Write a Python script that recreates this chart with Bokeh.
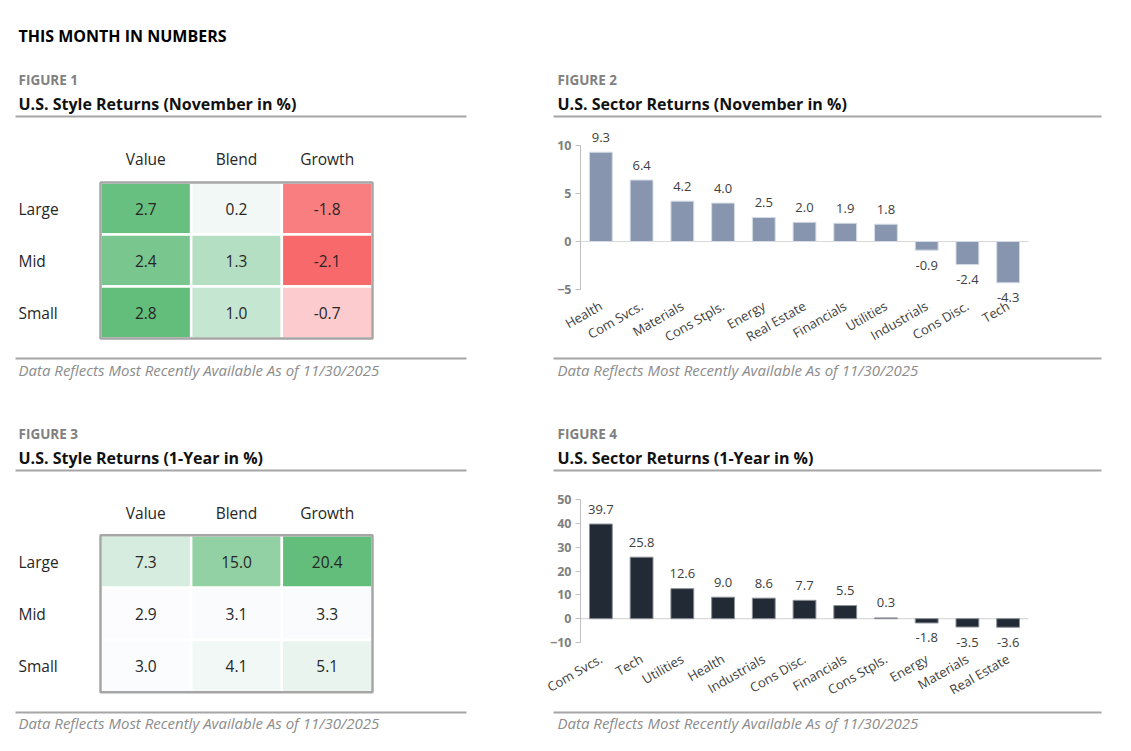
from math import pi
from bokeh.plotting import figure
from bokeh.layouts import column, row
from bokeh.models import Range1d, FixedTicker, ColumnDataSource
from bokeh.core.properties import value
from bokeh.embed import file_html
from bokeh.resources import INLINE

# ---------------- data ----------------
style_cols = ["Value", "Blend", "Growth"]
style_rows = ["Large", "Mid", "Small"]
style_nov = [[2.7, 0.2, -1.8],
             [2.4, 1.3, -2.1],
             [2.8, 1.0, -0.7]]
style_1y = [[7.3, 15.0, 20.4],
            [2.9, 3.1, 3.3],
            [3.0, 4.1, 5.1]]

sector_nov_names = ["Health", "Com Svcs.", "Materials", "Cons Stpls.", "Energy", "Real Estate",
                    "Financials", "Utilities", "Industrials", "Cons Disc.", "Tech"]
sector_nov_vals = [9.3, 6.4, 4.2, 4.0, 2.5, 2.0, 1.9, 1.8, -0.9, -2.4, -4.3]
sector_nov_ticks = [-5, 0, 5, 10]

sector_1y_names = ["Com Svcs.", "Tech", "Utilities", "Health", "Industrials", "Cons Disc.",
                   "Financials", "Cons Stpls.", "Energy", "Materials", "Real Estate"]
sector_1y_vals = [39.7, 25.8, 12.6, 9.0, 8.6, 7.7, 5.5, 0.3, -1.8, -3.5, -3.6]
sector_1y_ticks = [-10, 0, 10, 20, 30, 40, 50]

page_title = "THIS MONTH IN NUMBERS"
fig_labels = ["FIGURE 1", "FIGURE 2", "FIGURE 3", "FIGURE 4"]
fig_titles = ["U.S. Style Returns (November in %)", "U.S. Sector Returns (November in %)",
              "U.S. Style Returns (1-Year in %)", "U.S. Sector Returns (1-Year in %)"]
footnote = "Data Reflects Most Recently Available As of 11/30/2025"

# ---------------- styles ----------------
FONT = "Open Sans"
LW, RW = 540, 583
GREEN = (99, 190, 123)
WHITE = (252, 252, 255)
RED = (248, 105, 107)


def mix(c1, c2, t):
    t = max(0.0, min(1.0, t))
    return "#%02x%02x%02x" % tuple(int(round(a + (b - a) * t)) for a, b in zip(c1, c2))


def base_fig(w, h, **kw):
    return figure(width=w, height=h, output_backend="svg", toolbar_location=None,
                  min_border=0, outline_line_color=None, background_fill_color="white",
                  border_fill_color="white", **kw)


def text_fig(w, h):
    p = base_fig(w, h, x_range=Range1d(0, w), y_range=Range1d(h, 0),
                 x_axis_location=None, y_axis_location=None)
    p.grid.visible = False
    return p


def put_text(p, x, y, txt, size, color, style="normal", align="left"):
    p.text(x=[x], y=[y], text=[txt], text_font=value(FONT), text_font_size=size,
           text_color=color, text_font_style=style, text_align=align, text_baseline="middle")


def title_fig(w, h, xt, y_lab, y_tit, y_line, x0, x1, i):
    p = text_fig(w, h)
    put_text(p, xt, y_lab, fig_labels[i], "13.5px", "#808080", "bold")
    put_text(p, xt, y_tit, fig_titles[i], "16px", "#111111", "bold")
    p.segment(x0=[x0], y0=[y_line], x1=[x1], y1=[y_line], line_color="#a6a6a6", line_width=2)
    return p


def foot_fig(w, h, xt, y_line, y_txt, x0, x1):
    p = text_fig(w, h)
    p.segment(x0=[x0], y0=[y_line], x1=[x1], y1=[y_line], line_color="#a6a6a6", line_width=2)
    put_text(p, xt, y_txt, footnote, "15px", "#8c8c8c", "italic")
    return p


def heat_fig(w, h, vals, colorfn, y_top, y_bottom, x_left, x_right, y_head, x_lab):
    p = base_fig(w, h, x_range=Range1d(x_left, x_right), y_range=Range1d(y_bottom, y_top),
                 x_axis_location=None, y_axis_location=None)
    p.grid.visible = False
    xs, ys, txt, cols = [], [], [], []
    for r, rowvals in enumerate(vals):
        for c, v in enumerate(rowvals):
            xs.append(c)
            ys.append(r)
            txt.append("%.1f" % v)
            cols.append(colorfn(v))
    src = ColumnDataSource(dict(x=xs, y=ys, t=txt, c=cols))
    p.rect(x="x", y="y", width=1, height=1, fill_color="c", line_color="white",
           line_width=2.5, source=src)
    nc, nr = len(style_cols), len(style_rows)
    p.rect(x=[(nc - 1) / 2], y=[(nr - 1) / 2], width=nc, height=nr, fill_color=None,
           line_color="#a6a6a6", line_width=2.5)
    p.text(x="x", y="y", text="t", source=src, text_font=value(FONT), text_font_size="15.5px",
           text_color="#262626", text_align="center", text_baseline="middle")
    p.text(x=list(range(nc)), y=[y_head] * nc, text=style_cols, text_font=value(FONT),
           text_font_size="15.5px", text_color="#262626", text_align="center",
           text_baseline="middle")
    p.text(x=[x_lab] * nr, y=list(range(nr)), text=style_rows, text_font=value(FONT),
           text_font_size="15.5px", text_color="#262626", text_align="left",
           text_baseline="middle")
    return p


def bar_fig(w, h, names, vals, ticks, color, edge, x_lo, x_hi, y_lo, y_hi):
    n = len(names)
    idx = list(range(n))
    p = base_fig(w, h, x_range=Range1d(x_lo, x_hi), y_range=Range1d(y_lo, y_hi))
    p.grid.visible = False
    # zero baseline across the category band
    p.segment(x0=[-0.5], y0=[0], x1=[n - 0.5], y1=[0], line_color="#d9d9d9", line_width=1.2)
    p.vbar(x=idx, top=vals, width=0.56, fill_color=color, line_color=edge, line_width=1)
    offs = [-15 if v >= 0 else 15 for v in vals]
    src = ColumnDataSource(dict(x=idx, y=vals, t=["%.1f" % v for v in vals], o=offs))
    p.text(x="x", y="y", text="t", y_offset="o", source=src, text_font=value(FONT),
           text_font_size="13px", text_color="#404040", text_align="center",
           text_baseline="middle")
    ya = p.yaxis[0]
    ya.fixed_location = -0.5
    ya.ticker = FixedTicker(ticks=ticks)
    ya.bounds = (ticks[0], ticks[-1])
    ya.axis_line_color = "#bfbfbf"
    ya.major_tick_line_color = "#bfbfbf"
    ya.major_tick_out = 5
    ya.major_tick_in = 0
    ya.minor_tick_line_color = None
    ya.major_label_text_font = FONT
    ya.major_label_text_font_style = "bold"
    ya.major_label_text_font_size = "12.5px"
    ya.major_label_text_color = "#808080"
    ya.major_label_standoff = 4
    xa = p.xaxis[0]
    xa.fixed_location = ticks[0]
    xa.ticker = FixedTicker(ticks=idx)
    xa.major_label_overrides = {i: nm for i, nm in zip(idx, names)}
    xa.axis_line_color = None
    xa.major_tick_line_color = None
    xa.minor_tick_line_color = None
    xa.major_label_orientation = pi / 6
    xa.major_label_text_font = FONT
    xa.major_label_text_font_size = "13px"
    xa.major_label_text_color = "#404040"
    xa.major_label_standoff = 9
    return p


def color_nov(v):
    if v >= 0:
        return mix(WHITE, GREEN, v / max(max(r) for r in style_nov))
    return mix(WHITE, RED, v / min(min(r) for r in style_nov))


def color_1y(v):
    lo = min(min(r) for r in style_1y)
    hi = max(max(r) for r in style_1y)
    return mix(WHITE, GREEN, (v - lo) / (hi - lo))


# ---------------- layout ----------------
header = text_fig(LW + RW, 60)
put_text(header, 18, 35, page_title, "16px", "#000000", "bold")

t1 = title_fig(LW, 65, 18, 19, 43, 56, 15, 466, 0)
t2 = title_fig(RW, 65, 17, 19, 43, 56, 13, 561, 1)

u = 272 / 3.0
# heat cells span page x 100..372; bar band spans page x 580..1028 (11 slots)
cw = 448 / 11.0
bx_lo = -0.5 - (580 - 540) / cw
bx_hi = -0.5 + (540 + RW - 580) / cw

# chart row 1 spans page y 125..350
h1 = heat_fig(LW, 225, style_nov, color_nov,
              y_top=(125 - 208) / 52.0, y_bottom=(350 - 208) / 52.0,
              x_left=-0.5 - 100 / u, x_right=-0.5 + 440 / u,
              y_head=(158 - 208) / 52.0, x_lab=-0.5 - 82 / u)
s1 = 144 / 15.0  # tick 10 at y=145, tick -5 at y=289
b2 = bar_fig(RW, 225, sector_nov_names, sector_nov_vals, sector_nov_ticks,
             "#8796ae", "#d5dbe4", bx_lo, bx_hi,
             y_lo=-5 - (350 - 289) / s1, y_hi=10 + (145 - 125) / s1)

f1 = foot_fig(LW, 30, 18, 8, 19, 15, 466)
f2 = foot_fig(RW, 30, 17, 8, 19, 13, 561)

t3 = title_fig(LW, 99, 18, 53, 77, 90, 15, 466, 2)
t4 = title_fig(RW, 99, 17, 53, 77, 90, 13, 561, 3)

# chart row 2 spans page y 479..705
h3 = heat_fig(LW, 226, style_1y, color_1y,
              y_top=(479 - 561) / 52.3, y_bottom=(705 - 561) / 52.3,
              x_left=-0.5 - 100 / u, x_right=-0.5 + 440 / u,
              y_head=(512 - 561) / 52.3, x_lab=-0.5 - 82 / u)
s2 = 143 / 60.0  # tick 50 at y=499, tick -10 at y=642
b4 = bar_fig(RW, 226, sector_1y_names, sector_1y_vals, sector_1y_ticks,
             "#222a35", "#8a8f96", bx_lo, bx_hi,
             y_lo=-10 - (705 - 642) / s2, y_hi=50 + (499 - 479) / s2)

f3 = foot_fig(LW, 30, 18, 7, 17, 15, 466)
f4 = foot_fig(RW, 30, 17, 7, 17, 13, 561)

page = column(header, row(t1, t2), row(h1, b2), row(f1, f2),
              row(t3, t4), row(h3, b4), row(f3, f4))

open("out.html", "w").write(file_html(page, INLINE))
